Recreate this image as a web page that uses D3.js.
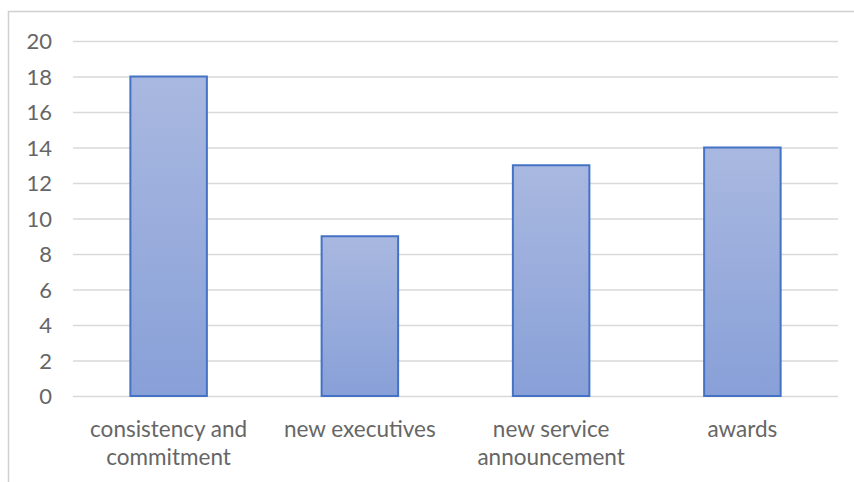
<!DOCTYPE html>
<html><head><meta charset="utf-8">
<script src="https://cdn.jsdelivr.net/npm/d3@7"></script>
<style>body{margin:0;background:#fff}svg{display:block}</style>
</head><body>
<script>
const categories = [["consistency and","commitment"],["new executives"],["new service","announcement"],["awards"]];
const values = [18, 9, 13, 14];
const yTicks = [0,2,4,6,8,10,12,14,16,18,20];

const W=854,H=482;
const svg=d3.select("body").append("svg").attr("width",W).attr("height",H);
const defs=svg.append("defs");
const g=defs.append("linearGradient").attr("id","bg").attr("x1",0).attr("y1",0).attr("x2",0).attr("y2",1);
g.append("stop").attr("offset","0%").attr("stop-color","#a9b8e0");
g.append("stop").attr("offset","100%").attr("stop-color","#88a0d8");

// outer frame
svg.append("path").attr("d","M8.5,482 L8.5,11.5 L854,11.5").attr("fill","none").attr("stroke","#d0d0d0").attr("stroke-width",1.5);

const x=d3.scaleBand().domain(d3.range(categories.length)).range([73,838]).paddingInner(0.6).paddingOuter(0.3);
const y=d3.scaleLinear().domain([0,20]).range([396,41]);

const font="Lato, 'Open Sans', sans-serif";
const yAxis=svg.append("g").attr("transform","translate(73,0)").call(d3.axisLeft(y).tickValues(yTicks).tickSize(-765).tickPadding(21));
yAxis.attr("font-size",null).attr("font-family",null);
yAxis.select(".domain").remove();
yAxis.selectAll(".tick line").attr("stroke","#d9d9d9").attr("stroke-width",1.5);
yAxis.selectAll(".tick text").attr("fill","#666666").attr("dy","0.36em").style("font-family",font).style("font-size","22px");

svg.selectAll("rect.bar").data(values).join("rect").attr("class","bar")
 .attr("x",(d,i)=>x(i)).attr("width",x.bandwidth())
 .attr("y",d=>y(d)).attr("height",d=>y(0)-y(d))
 .attr("fill","url(#bg)").attr("stroke","#4472c4").attr("stroke-width",2);

const xl=svg.append("g");
categories.forEach((lines,i)=>{
  const t=xl.append("text").attr("x",x(i)+x.bandwidth()/2).attr("y",437).attr("text-anchor","middle")
   .attr("fill","#666666").style("font-family",font).style("font-size","22.5px");
  lines.forEach((l,j)=>t.append("tspan").attr("x",x(i)+x.bandwidth()/2).attr("dy",j?28:0).text(l));
});
</script>
</body></html>
